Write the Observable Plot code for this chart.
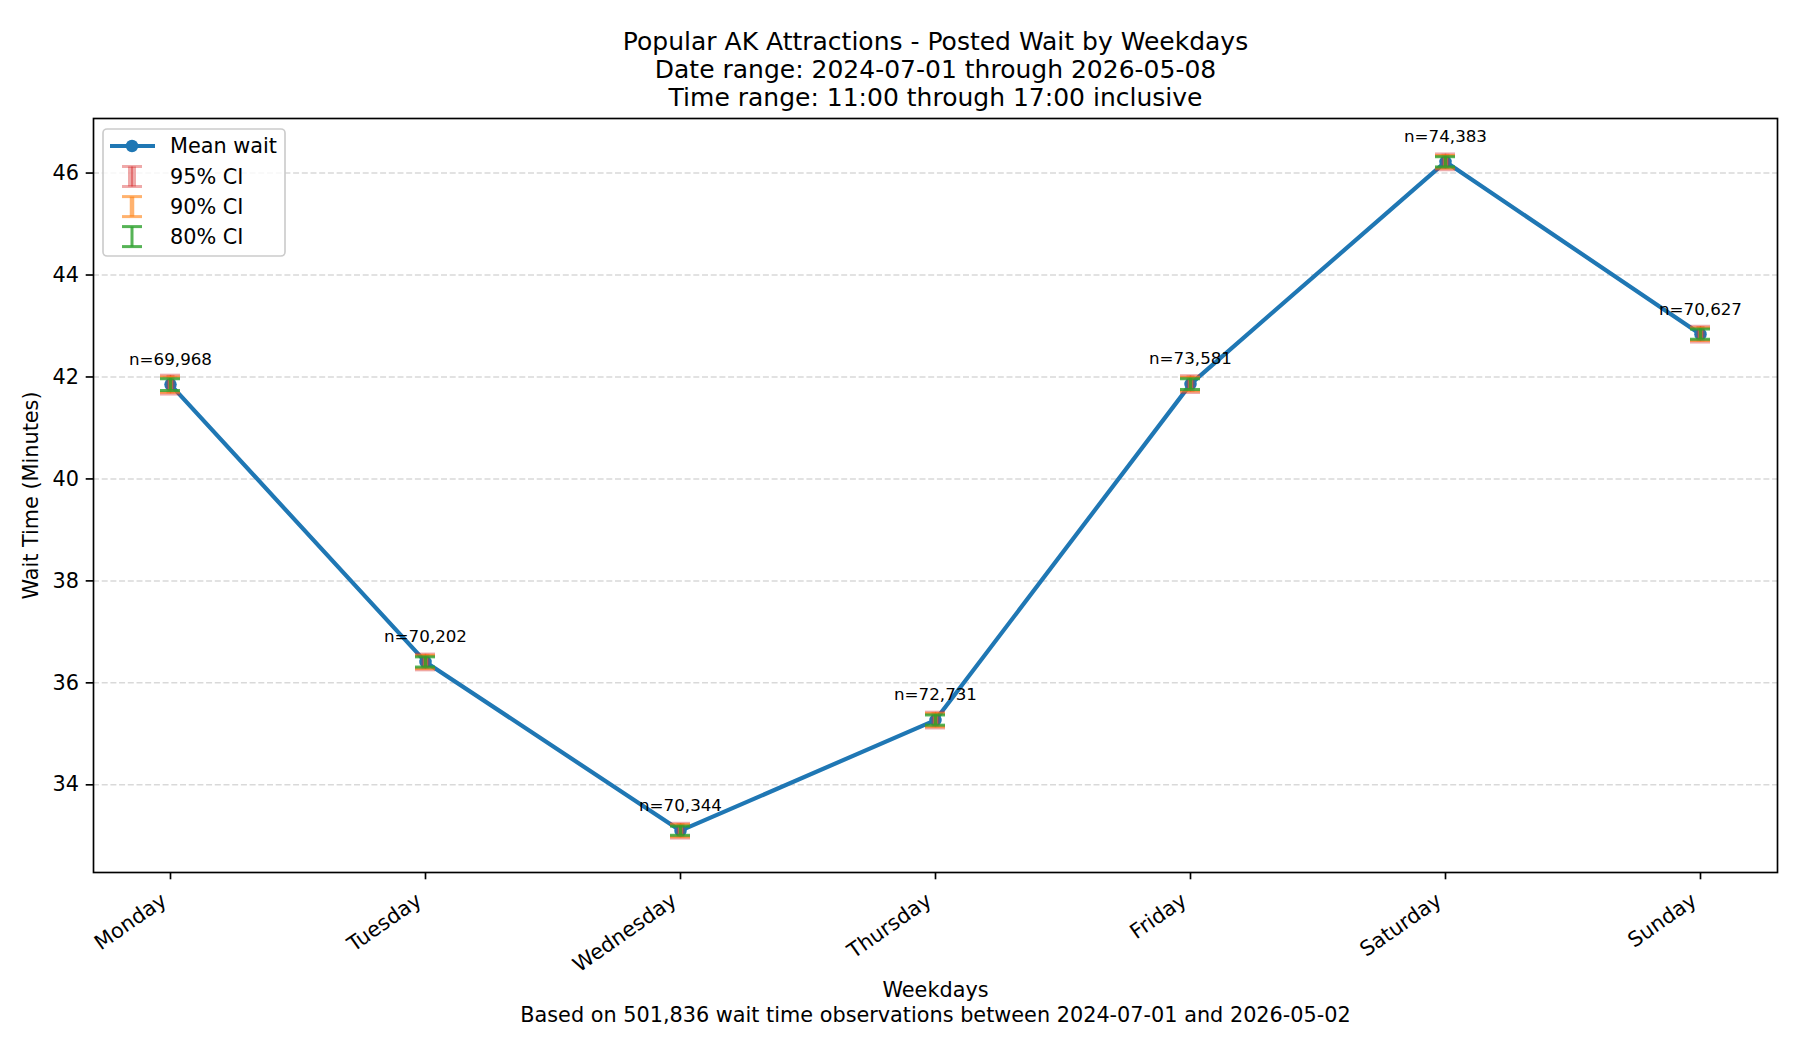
<!DOCTYPE html>
<html>
<head>
<meta charset="utf-8">
<script src="https://cdn.jsdelivr.net/npm/d3@7"></script>
<script src="https://cdn.jsdelivr.net/npm/@observablehq/plot@0.6"></script>
<style>
  body { margin: 0; background: #fff; }
  #wrap { position: relative; width: 1800px; height: 1050px; font-family: "DejaVu Sans", sans-serif; }
  #legend { position: absolute; left: 0; top: 0; pointer-events: none; }
</style>
</head>
<body>
<div id="wrap"></div>
<script>
// ---- data ----
const days = ["Monday", "Tuesday", "Wednesday", "Thursday", "Friday", "Saturday", "Sunday"];
const meanWait = [41.85, 36.41, 33.10, 35.27, 41.86, 46.22, 42.84];
const nObs = [69968, 70202, 70344, 72731, 73581, 74383, 70627];
const ci95 = [0.18, 0.15, 0.14, 0.15, 0.16, 0.15, 0.15];
const ci90 = [0.15, 0.13, 0.12, 0.13, 0.135, 0.125, 0.125];
const ci80 = [0.115, 0.10, 0.09, 0.10, 0.105, 0.10, 0.10];
const yTicks = [34, 36, 38, 40, 42, 44, 46];
const titleLines = [
  "Popular AK Attractions - Posted Wait by Weekdays",
  "Date range: 2024-07-01 through 2026-05-08",
  "Time range: 11:00 through 17:00 inclusive"
];
const xLabel = "Weekdays";
const yLabel = "Wait Time (Minutes)";
const caption = "Based on 501,836 wait time observations between 2024-07-01 and 2026-05-02";
const legendLabels = ["Mean wait", "95% CI", "90% CI", "80% CI"];

const rows = days.map((d, i) => ({
  day: d, mean: meanWait[i], n: nObs[i],
  lo95: meanWait[i] - ci95[i], hi95: meanWait[i] + ci95[i],
  lo90: meanWait[i] - ci90[i], hi90: meanWait[i] + ci90[i],
  lo80: meanWait[i] - ci80[i], hi80: meanWait[i] + ci80[i]
}));

const blue = "#1f77b4", red = "#d62728", orange = "#ff7f0e", green = "#2ca02c";
const fmt = d3.format(",");

function errMarks(lo, hi, color, op, w, capW) {
  return [
    Plot.ruleX(rows, {x: "day", y1: lo, y2: hi, stroke: color, strokeOpacity: op, strokeWidth: w}),
    Plot.ruleY(rows, {x1: "day", x2: "day", y: lo, stroke: color, strokeOpacity: op, strokeWidth: capW, insetLeft: -10, insetRight: -10}),
    Plot.ruleY(rows, {x1: "day", x2: "day", y: hi, stroke: color, strokeOpacity: op, strokeWidth: capW, insetLeft: -10, insetRight: -10})
  ];
}

const chart = Plot.plot({
  width: 1800,
  height: 1050,
  marginTop: 118,
  marginLeft: 93,
  marginRight: 23,
  marginBottom: 178,
  style: {fontFamily: "DejaVu Sans, sans-serif", fontSize: "20.8px", color: "#000", background: "#fff"},
  x: {type: "point", domain: days, padding: 0.3},
  y: {domain: [32.28, 47.07]},
  marks: [
    Plot.gridY(yTicks, {stroke: "#d9d9d9", strokeOpacity: 1, strokeWidth: 1.5, strokeDasharray: "6,2.7"}),
    Plot.line(rows, {x: "day", y: "mean", stroke: blue, strokeWidth: 4.2}),
    Plot.dot(rows, {x: "day", y: "mean", r: 6.25, fill: blue, stroke: "none"}),
    ...errMarks("lo95", "hi95", red, 0.4, 8, 3.5),
    Plot.ruleX(rows, {x: "day", y1: "lo95", y2: "hi95", stroke: red, strokeOpacity: 0.55, strokeWidth: 1.5}),
    ...errMarks("lo90", "hi90", orange, 0.6, 4.5, 3),
    ...errMarks("lo80", "hi80", green, 0.8, 3, 3),
    Plot.text(rows, {x: "day", y: "mean", text: d => "n=" + fmt(d.n), dy: -25, lineAnchor: "middle", fontSize: 16.7, fill: "#000"}),
    Plot.frame({stroke: "#000", strokeWidth: 1.67}),
    Plot.axisY({ticks: yTicks, tickSize: 7.3, tickPadding: 7.3, fontSize: 20.8, label: null, strokeWidth: 1.67, fill: "#000"}),
    Plot.axisX({tickSize: 7.3, tickFormat: () => "", label: null, strokeWidth: 1.67}),
    Plot.text(days, {x: d => d, text: d => d, frameAnchor: "bottom", rotate: -35, textAnchor: "end", lineAnchor: "top", dx: -11, dy: 19, fontSize: 20.8, fill: "#000"}),
    Plot.text([yLabel], {text: d => d, frameAnchor: "left", rotate: -90, dx: -62, textAnchor: "middle", lineAnchor: "middle", fontSize: 20.8, fill: "#000"}),
    Plot.text([xLabel], {text: d => d, frameAnchor: "bottom", dy: 117.6, textAnchor: "middle", lineAnchor: "middle", fontSize: 20.8, fill: "#000"}),
    Plot.text([caption], {text: d => d, frameAnchor: "bottom", dy: 143, textAnchor: "middle", lineAnchor: "middle", fontSize: 20.8, fill: "#000"}),
    Plot.text([titleLines[0]], {text: d => d, frameAnchor: "top", textAnchor: "middle", lineAnchor: "middle", fontSize: 25, fill: "#000", dy: -77}),
    Plot.text([titleLines[1]], {text: d => d, frameAnchor: "top", textAnchor: "middle", lineAnchor: "middle", fontSize: 25, fill: "#000", dy: -48.5}),
    Plot.text([titleLines[2]], {text: d => d, frameAnchor: "top", textAnchor: "middle", lineAnchor: "middle", fontSize: 25, fill: "#000", dy: -20.5})
  ]
});

const wrap = document.getElementById("wrap");
wrap.appendChild(chart);

// ---- legend overlay (inside the axes, top-left) ----
const ns = "http://www.w3.org/2000/svg";
const lg = document.createElementNS(ns, "svg");
lg.setAttribute("id", "legend");
lg.setAttribute("width", 1800);
lg.setAttribute("height", 1050);
function el(tag, attrs) {
  const e = document.createElementNS(ns, tag);
  for (const k in attrs) e.setAttribute(k, attrs[k]);
  lg.appendChild(e);
  return e;
}
el("rect", {x: 103, y: 129, width: 182, height: 127, rx: 4, fill: "#fff", "fill-opacity": 0.8, stroke: "#cccccc", "stroke-width": 1.67});
el("line", {x1: 110, x2: 155, y1: 146, y2: 146, stroke: blue, "stroke-width": 4.2});
el("circle", {cx: 132, cy: 146, r: 6.25, fill: blue});
const icons = [
  {y: 176.5, color: red, op: 0.4, w: 8, extra: true},
  {y: 206.6, color: orange, op: 0.6, w: 4.5},
  {y: 236.6, color: green, op: 0.8, w: 3}
];
icons.forEach(ic => {
  el("line", {x1: 132, x2: 132, y1: ic.y - 10, y2: ic.y + 10, stroke: ic.color, "stroke-opacity": ic.op, "stroke-width": ic.w});
  if (ic.extra) el("line", {x1: 132, x2: 132, y1: ic.y - 10, y2: ic.y + 10, stroke: ic.color, "stroke-opacity": 0.55, "stroke-width": 1.5});
  el("line", {x1: 122, x2: 142, y1: ic.y - 10, y2: ic.y - 10, stroke: ic.color, "stroke-opacity": ic.op, "stroke-width": 3});
  el("line", {x1: 122, x2: 142, y1: ic.y + 10, y2: ic.y + 10, stroke: ic.color, "stroke-opacity": ic.op, "stroke-width": 3});
});
[146, 176.5, 206.6, 236.6].forEach((y, i) => {
  const t = el("text", {x: 170, y: y, "dominant-baseline": "central", "font-family": "DejaVu Sans, sans-serif", "font-size": 20.8, fill: "#000"});
  t.textContent = legendLabels[i];
});
wrap.appendChild(lg);
</script>
</body>
</html>
